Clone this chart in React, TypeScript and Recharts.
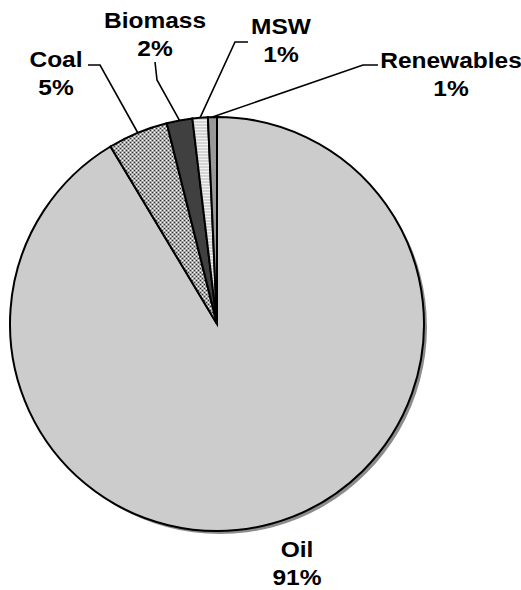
import React from 'react';
import { PieChart, Pie, Cell } from 'recharts';

const sources = ['Oil', 'Coal', 'Biomass', 'MSW', 'Renewables'];
const shares = [91.4, 4.7, 2.0, 1.2, 0.7];
const shareLabels = ['91%', '5%', '2%', '1%', '1%'];

const data = sources.map((name, i) => ({ name, value: shares[i], text: shareLabels[i] }));
const shadowData = [{ name: 'shadow', value: 1 }];

const fills = ['#cccccc', 'url(#coalPat)', '#404040', 'url(#mswPat)', '#999999'];

// label placement: text centre x, first baseline y, elbow point, line end
const labelLayout: Record<string, { x: number; y: number; elbow?: [number, number]; end?: [number, number] }> = {
    Oil: { x: 297, y: 557 },
    Coal: { x: 56, y: 67, elbow: [100, 65], end: [88, 65] },
    Biomass: { x: 155, y: 28, elbow: [157, 80], end: [155, 62] },
    MSW: { x: 281, y: 34, elbow: [235, 42], end: [248, 42] },
    Renewables: { x: 451, y: 68, elbow: [363, 65], end: [378, 65] },
};

const RADIAN = Math.PI / 180;

const renderLabel = (props: any) => {
    const { cx, cy, midAngle, outerRadius, name, payload } = props;
    const layout = labelLayout[name];
    if (!layout) return null;
    const sx = cx + outerRadius * Math.cos(-midAngle * RADIAN);
    const sy = cy + outerRadius * Math.sin(-midAngle * RADIAN);
    const textStyle = {
        fontFamily: '"Liberation Sans", Arial, sans-serif',
        fontWeight: 700,
        fontSize: 21.5,
        fill: '#000',
    };
    return (
        <g>
            {layout.elbow && layout.end && (
                <polyline
                    points={`${sx},${sy} ${layout.elbow[0]},${layout.elbow[1]} ${layout.end[0]},${layout.end[1]}`}
                    fill="none"
                    stroke="#000"
                    strokeWidth={1.6}
                />
            )}
            <text transform={`translate(${layout.x},${layout.y}) scale(1.14,1)`} textAnchor="middle" style={textStyle}>
                {name}
            </text>
            <text transform={`translate(${layout.x},${layout.y + 28}) scale(1.14,1)`} textAnchor="middle" style={textStyle}>
                {payload.text}
            </text>
        </g>
    );
};

export default function App() {
    return (
        <div style={{ position: 'absolute', left: 0, top: 0, width: 521, height: 590, background: '#fff' }}>
            <PieChart width={521} height={590} margin={{ top: 0, right: 0, bottom: 0, left: 0 }}>
                <defs>
                    <pattern id="coalPat" width="4" height="4" patternUnits="userSpaceOnUse">
                        <rect width="4" height="4" fill="#a8a8a8" />
                        <rect x="0" y="0" width="1" height="1" fill="#333" />
                        <rect x="2" y="2" width="1" height="1" fill="#333" />
                        <rect x="2" y="0" width="1" height="1" fill="#fff" />
                        <rect x="0" y="2" width="1" height="1" fill="#fff" />
                    </pattern>
                    <pattern id="mswPat" width="3" height="3" patternUnits="userSpaceOnUse">
                        <rect width="3" height="3" fill="#d4d4d4" />
                        <rect x="0" y="0" width="3" height="1" fill="#f2f2f2" />
                    </pattern>
                </defs>
                <Pie
                    data={shadowData}
                    dataKey="value"
                    cx={220}
                    cy={327}
                    outerRadius={207}
                    startAngle={90}
                    endAngle={-270}
                    fill="#8c8c8c"
                    stroke="none"
                    isAnimationActive={false}
                />
                <Pie
                    data={data}
                    dataKey="value"
                    nameKey="name"
                    cx={217}
                    cy={324}
                    outerRadius={207}
                    startAngle={90}
                    endAngle={-270}
                    stroke="#000"
                    strokeWidth={2}
                    label={renderLabel}
                    labelLine={false}
                    isAnimationActive={false}
                >
                    {data.map((d, i) => (
                        <Cell key={d.name} fill={fills[i]} />
                    ))}
                </Pie>
            </PieChart>
        </div>
    );
}
